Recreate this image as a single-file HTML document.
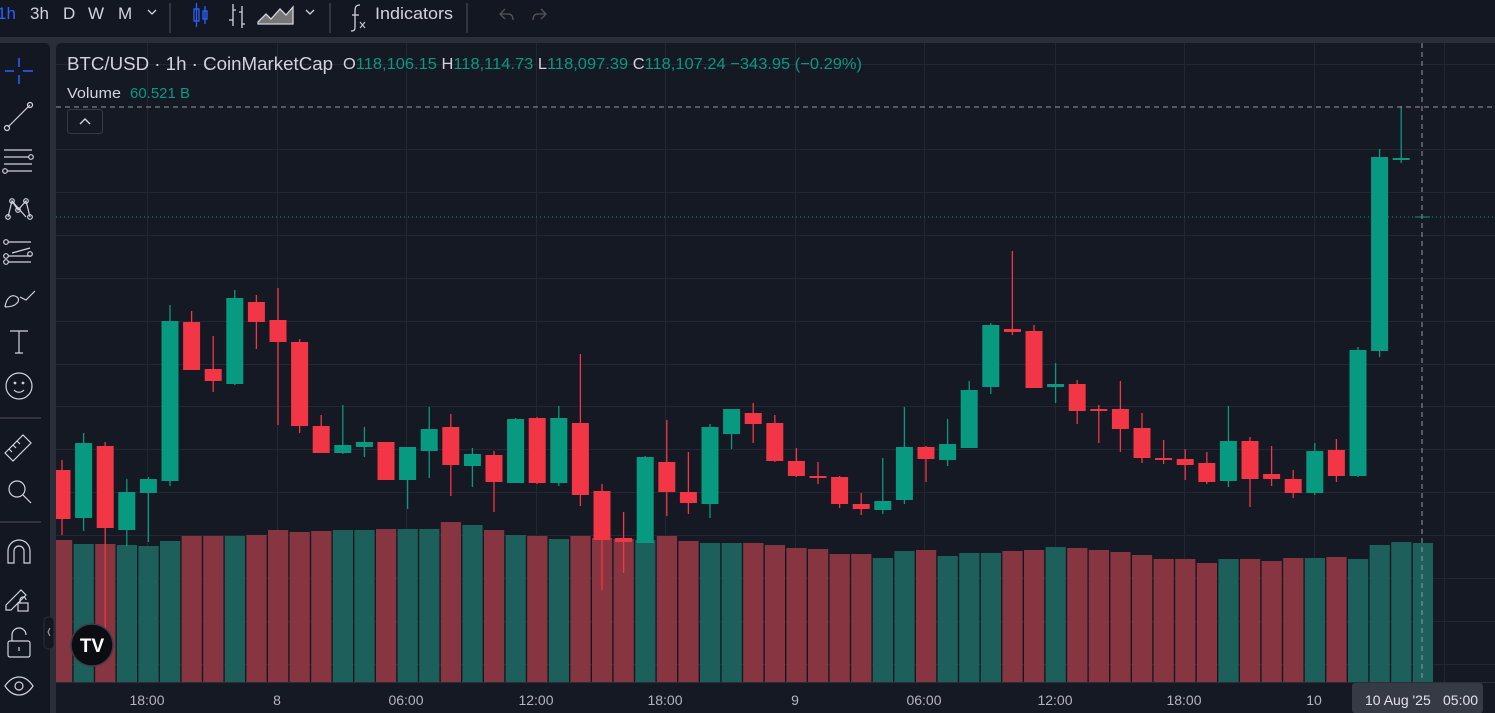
<!DOCTYPE html>
<html><head><meta charset="utf-8"><style>
body{margin:0;width:1495px;height:713px;overflow:hidden;background:#2a2e39;font-family:"Liberation Sans",sans-serif;}
#top{position:absolute;left:0;top:0;width:1495px;height:37px;background:#131722;}
#left{position:absolute;left:0;top:43px;width:50px;height:670px;background:#131722;border-top-right-radius:5px;}
#chart{position:absolute;left:56px;top:43px;width:1439px;height:670px;background:#151924;border-top-left-radius:5px;}
svg{position:absolute;left:0;top:0;}
</style></head><body>
<div id="top"></div>
<div id="left"></div>
<div id="chart"></div>
<svg width="1495" height="713" id="s">
<g font-family="Liberation Sans" font-size="17" fill="#d1d4dc">
<text x="-3" y="19" fill="#2962ff">1h</text>
<text x="30" y="19">3h</text>
<text x="63" y="19">D</text>
<text x="88" y="19">W</text>
<text x="118" y="19">M</text>
<text x="375" y="19" textLength="78" lengthAdjust="spacingAndGlyphs">Indicators</text>
</g>
<g stroke="#d1d4dc" fill="none" stroke-width="1.3">
<path d="M148 10l4 4 4-4"/>
<path d="M306 10l4 4 4-4"/>
<line x1="170" y1="3" x2="170" y2="33" stroke="#434651"/>
<line x1="330" y1="3" x2="330" y2="33" stroke="#434651"/>
<line x1="467" y1="3" x2="467" y2="33" stroke="#434651"/>
<g stroke="#2962ff"><rect x="194" y="9" width="5" height="12"/><line x1="196.5" y1="3" x2="196.5" y2="27"/><rect x="203" y="11" width="4" height="8"/><line x1="205" y1="6" x2="205" y2="24"/></g>
<path d="M233 4v22M233 20h-4M233 10h3M242 6v22M242 12h-3M242 24h3"/>
<path d="M258 22l8-8 5 5 9-10 6 6 7-8v17h-35z" fill="#777"/>
<path d="M360 5c-5 0-5 3-5 8v14c0 4-2 4-4 4M352 15h7" /><path d="M360 22l5 6M365 22l-5 6" stroke-width="1"/>
<g stroke="#555"><path d="M505 9l-5 5 5 5M500 14h8c4 0 5 3 5 6"/><path d="M541 9l5 5-5 5M546 14h-8c-4 0-5 3-5 6"/></g>
</g>
<g stroke="#d1d4dc" fill="none" stroke-width="1.2">
<g stroke="#2962ff" stroke-width="1.5"><path d="M19 58v9M19 75v9M5 71h9M23 71h10"/></g>
<path d="M8 127l22-22"/><circle cx="7" cy="128" r="2.5"/><circle cx="30" cy="105" r="2.5"/>
<path d="M4 150h28M4 157h25M4 164h28M7 171h25"/><circle cx="31" cy="157" r="2.3"/><circle cx="5" cy="171" r="2.3"/>
<path d="M8 217l4-16 6 9 8-9 4 16M12 201l14 16"/><circle cx="8" cy="217" r="2.3"/><circle cx="12" cy="201" r="2.3"/><circle cx="26" cy="201" r="2.3"/><circle cx="30" cy="217" r="2.3"/><circle cx="18" cy="210" r="2.3"/>
<path d="M8 242h23M8 256h23M8 262h23M12 253l18-5" /><circle cx="6" cy="242" r="2.3"/><circle cx="6" cy="256" r="2.3"/><circle cx="30" cy="254" r="2.3"/><circle cx="6" cy="262" r="2.3"/>
<path d="M5 307c1-8 6-14 12-10 4 3 0 10-12 10M20 297l6 3 9-9"/>
<path d="M10 331h18M19 331v22M15 353h8"/>
<circle cx="19" cy="386" r="13"/><circle cx="15" cy="383" r="0.8"/><circle cx="23" cy="383" r="0.8"/><path d="M14 390c3 3 7 3 10 0"/>
<line x1="0" y1="418" x2="41" y2="418" stroke="#434651"/>
<path d="M5 453l18-18 8 8-18 18z M9 449l3 3M13 445l3 3M17 441l3 3"/>
<circle cx="17" cy="489" r="8"/><path d="M23 495l8 8"/>
<line x1="0" y1="522" x2="41" y2="522" stroke="#434651"/>
<path d="M8 563v-12a11 11 0 0 1 22 0v12h-6v-12a5 5 0 0 0-10 0v12z"/>
<path d="M6 605l15-15 5 5-15 15H6z"/><rect x="18" y="603" width="10" height="8"/><path d="M20 603v-3a3 3 0 0 1 6 0"/>
<rect x="8" y="641" width="22" height="16" rx="2"/><path d="M12 641v-6a7 7 0 0 1 14 0"/><path d="M19 647v4"/>
<path d="M5 686c8-12 20-12 28 0-8 12-20 12-28 0z"/><circle cx="19" cy="686" r="4"/>
</g>
<rect x="44" y="617" width="10" height="32" rx="4" fill="#131722" stroke="#2a2e39"/>
<path d="M50 628l-2 4 2 4" stroke="#aaa" fill="none"/>
<g id="grid" stroke="#232733" stroke-width="1"></g>
<g id="vol"></g>
<g id="cnd"></g>
<line x1="56" y1="107" x2="1495" y2="107" stroke="#9598a1" stroke-dasharray="5,4"/>
<line x1="1422" y1="43" x2="1422" y2="683" stroke="#9598a1" stroke-dasharray="5,4"/>
<line x1="56" y1="217" x2="1495" y2="217" stroke="#089981" stroke-dasharray="1,3"/>
<line x1="1415" y1="217" x2="1430" y2="217" stroke="#089981"/>
<rect x="56" y="682" width="1439" height="31" fill="#151924"/>
<line x1="56" y1="682.5" x2="1495" y2="682.5" stroke="#2a2e39"/>
<g fill="#b2b5be" font-size="14" text-anchor="middle" font-family="Liberation Sans">
<text x="147" y="705">18:00</text><text x="277" y="705">8</text><text x="406" y="705">06:00</text><text x="536" y="705">12:00</text><text x="665" y="705">18:00</text><text x="795" y="705">9</text><text x="924" y="705">06:00</text><text x="1055" y="705">12:00</text><text x="1184" y="705">18:00</text><text x="1314" y="705">10</text>
</g>
<rect x="1352" y="683" width="131" height="30" rx="3" fill="#363a45"/>
<text x="1365" y="705" fill="#e0e3eb" font-size="14" font-family="Liberation Sans">10 Aug '25</text>
<text x="1443" y="705" fill="#e0e3eb" font-size="14" font-family="Liberation Sans">05:00</text>
<circle cx="92" cy="645" r="21" fill="#0b0d12" stroke="#3a3e49" stroke-width="1.5"/>
<text x="92" y="652" fill="#fff" font-size="19" font-weight="bold" text-anchor="middle" font-family="Liberation Sans">TV</text>
<rect x="67.5" y="109.5" width="35" height="24" rx="3" fill="#151924" stroke="#363a45"/>
<path d="M80 124l5-5 5 5" stroke="#d1d4dc" fill="none" stroke-width="1.4"/>
<g font-family="Liberation Sans">
<text x="67" y="70" fill="#d1d4dc" font-size="18" textLength="266" lengthAdjust="spacingAndGlyphs">BTC/USD · 1h · CoinMarketCap</text>
<text x="343" y="69" font-size="16" fill="#d1d4dc" textLength="519" lengthAdjust="spacingAndGlyphs">O<tspan fill="#089981">118,106.15</tspan> H<tspan fill="#089981">118,114.73</tspan> L<tspan fill="#089981">118,097.39</tspan> C<tspan fill="#089981">118,107.24</tspan> <tspan fill="#089981">−343.95 (−0.29%)</tspan></text>
<text x="67" y="98" fill="#d1d4dc" font-size="15" textLength="54" lengthAdjust="spacingAndGlyphs">Volume</text>
<text x="130" y="98" fill="#089981" font-size="15" textLength="60" lengthAdjust="spacingAndGlyphs">60.521 B</text>
</g>
</svg>
<script>
var C=[['r',470,519,460,535],['g',443,518,433,531],['r',446,528,442,630],['g',492,530,479,546],['g',479,493,477,542],['g',321,481,305,486],['r',322,370,311,370],['r',369,381,336,392],['g',298,384,290,385],['r',302,322,295,349],['r',320,342,288,425],['r',342,426,339,433],['r',426,453,415,453],['g',445,453,405,454],['g',442,447,427,457],['r',442,480,442,480],['g',447,480,447,509],['g',429,451,407,478],['r',427,465,414,496],['g',454,466,448,487],['r',455,482,451,512],['g',419,483,418,483],['r',418,483,417,484],['g',418,483,406,486],['r',423,495,354,506],['r',491,540,484,590],['r',538,542,512,573],['g',457,543,456,543],['r',462,492,420,516],['r',492,503,452,514],['g',427,504,424,518],['g',409,434,409,449],['r',413,424,403,443],['r',423,461,415,462],['r',461,476,448,477],['r',476,478,462,484],['r',477,504,476,508],['r',504,509,493,515],['g',501,510,458,514],['g',447,500,407,504],['r',447,459,446,482],['g',444,460,419,466],['g',390,448,381,448],['g',325,387,323,394],['r',329,332,251,335],['r',331,388,325,388],['g',384,387,363,403],['r',384,411,380,424],['r',409,410,405,443],['r',409,429,381,452],['r',428,458,413,463],['r',458,460,440,464],['r',459,465,449,480],['r',463,482,452,484],['g',441,481,406,487],['r',441,479,437,507],['r',474,479,446,486],['r',479,493,470,498],['g',451,493,443,495],['r',450,476,439,482],['g',350,476,347,477],['g',157,351,149,357],['g',158,159,106,163]];
var V=[540,544,544,545,546,541,536,536,536,535,530,532,531,530,530,529,529,529,522,525,530,535,536,539,536,538,539,540,536,541,543,543,543,545,548,549,554,554,558,551,550,556,553,553,551,550,547,548,550,552,555,559,559,563,559,559,561,558,558,557,559,545,542,543];
var ns='http://www.w3.org/2000/svg';
function el(p,t,a){var e=document.createElementNS(ns,t);for(var k in a)e.setAttribute(k,a[k]);document.getElementById(p).appendChild(e);}
[64,149,192,235,278,321,364,406,449,492,535,578,621,664].forEach(function(y){el('grid','line',{x1:56,x2:1495,y1:y+.5,y2:y+.5});});
[147,277,406,536,665,795,924,1055,1184,1314,1444].forEach(function(x){el('grid','line',{x1:x+.5,x2:x+.5,y1:43,y2:682});});
for(var i=0;i<V.length;i++){var x=62+21.6*i;var c=i<C.length?C[i][0]:'g';var x0=Math.max(56,x-10);el('vol','rect',{x:x0,y:V[i],width:x+10.2-x0,height:682-V[i],fill:c=='g'?'#1d5f5a':'#873540'});}
for(var i=0;i<C.length;i++){var d=C[i],x=62+21.6*i,col=d[0]=='g'?'#089981':'#f23645';var x0=Math.max(56,x-8.5);
el('cnd','line',{x1:x,x2:x,y1:d[3],y2:d[4],stroke:col,'stroke-width':1.3});
el('cnd','rect',{x:x0,y:d[1],width:x+8.5-x0,height:Math.max(2,d[2]-d[1]),fill:col});}
</script>
</body></html>
